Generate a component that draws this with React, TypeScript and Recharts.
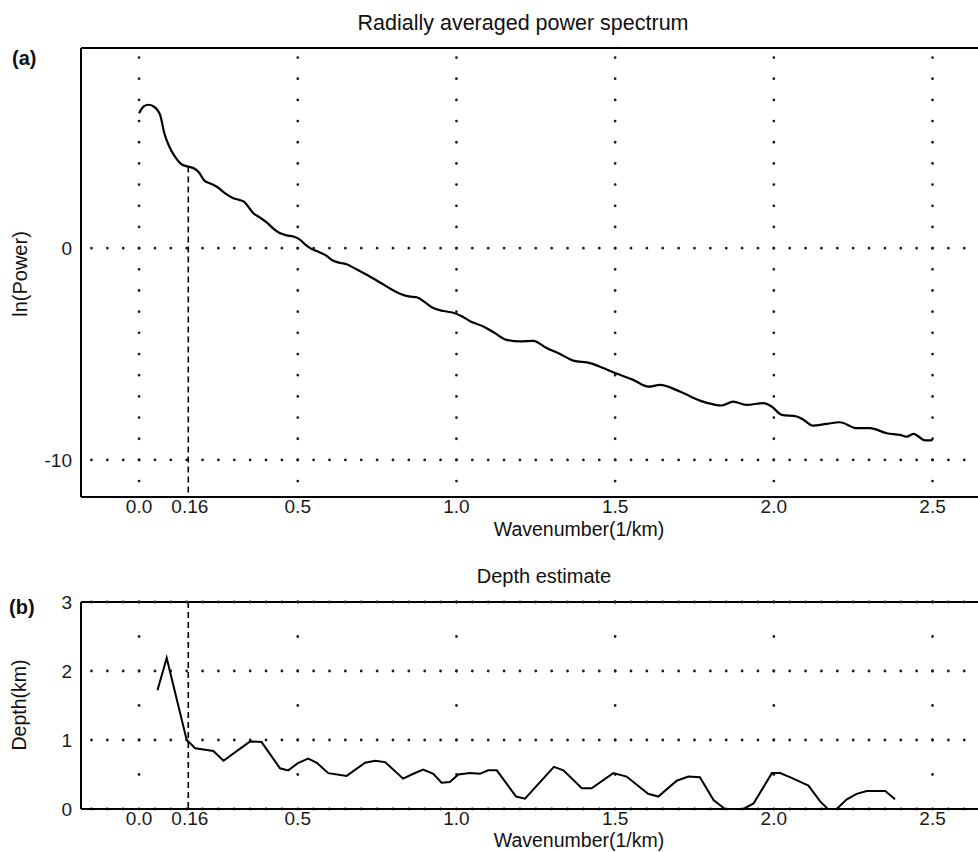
import React from 'react'
import { LineChart, Line, XAxis, YAxis, ReferenceLine } from 'recharts'

// (a) radially averaged power spectrum
const wavenumberA = [
  0.0, 0.015, 0.03, 0.045, 0.066, 0.08, 0.095, 0.114, 0.135, 0.155, 0.175, 0.19, 0.205, 0.225, 0.245,
  0.27, 0.297, 0.315, 0.33, 0.36, 0.38, 0.402, 0.425, 0.445, 0.465, 0.486, 0.507, 0.525, 0.539, 0.56,
  0.586, 0.612, 0.635, 0.654, 0.685, 0.717, 0.759, 0.79, 0.822, 0.85, 0.875, 0.9, 0.927, 0.959, 0.99,
  1.015, 1.043, 1.085, 1.12, 1.158, 1.2, 1.242, 1.284, 1.32, 1.368, 1.421, 1.46, 1.5, 1.557, 1.605,
  1.641, 1.704, 1.767, 1.81, 1.836, 1.872, 1.914, 1.967, 1.993, 2.025, 2.072, 2.093, 2.124, 2.165, 2.208,
  2.261, 2.303, 2.356, 2.398, 2.419, 2.44, 2.477, 2.5,
]
const lnPowerA = [
  6.37, 6.7, 6.77, 6.7, 6.3, 5.4, 4.8, 4.3, 3.95, 3.85, 3.75, 3.55, 3.2, 3.05, 2.9,
  2.6, 2.36, 2.28, 2.2, 1.65, 1.45, 1.22, 0.9, 0.7, 0.6, 0.55, 0.4, 0.15, 0.0, -0.14,
  -0.32, -0.6, -0.7, -0.76, -1.0, -1.26, -1.62, -1.9, -2.15, -2.28, -2.32, -2.55, -2.83, -2.97, -3.05,
  -3.2, -3.45, -3.7, -4.0, -4.33, -4.4, -4.38, -4.72, -4.95, -5.31, -5.43, -5.65, -5.9, -6.22, -6.54,
  -6.46, -6.77, -7.2, -7.38, -7.43, -7.25, -7.4, -7.32, -7.48, -7.87, -7.95, -8.1, -8.38, -8.3, -8.22,
  -8.5, -8.5, -8.74, -8.82, -8.9, -8.77, -9.08, -9.07,
]

// (b) depth estimate
const wavenumberB = [
  0.058, 0.087, 0.15, 0.177, 0.234, 0.266, 0.35, 0.386, 0.444, 0.47, 0.502, 0.533, 0.56, 0.596, 0.654,
  0.712, 0.744, 0.775, 0.832, 0.859, 0.895, 0.927, 0.953, 0.979, 1.006, 1.043, 1.074, 1.1, 1.127, 1.188,
  1.216, 1.307, 1.337, 1.395, 1.426, 1.494, 1.536, 1.604, 1.636, 1.694, 1.731, 1.767, 1.81, 1.846, 1.904,
  1.936, 1.994, 2.02, 2.056, 2.109, 2.146, 2.17, 2.198, 2.23, 2.261, 2.293, 2.351, 2.382,
]
const depthB = [
  1.72, 2.19, 1.0, 0.88, 0.84, 0.7, 0.98, 0.97, 0.59, 0.56, 0.67, 0.73, 0.67, 0.52, 0.48,
  0.67, 0.7, 0.68, 0.44, 0.5, 0.57, 0.51, 0.38, 0.39, 0.5, 0.52, 0.51, 0.56, 0.56, 0.18,
  0.15, 0.61, 0.56, 0.3, 0.3, 0.52, 0.47, 0.22, 0.18, 0.41, 0.47, 0.46, 0.13, 0.0, 0.0,
  0.08, 0.52, 0.52, 0.45, 0.34, 0.11, 0.0, 0.0, 0.14, 0.22, 0.26, 0.26, 0.14,
]

const xTicks = [0, 0.16, 0.5, 1.0, 1.5, 2.0, 2.5]
const gridX = [0, 0.5, 1.0, 1.5, 2.0, 2.5]
const powerTicks = [0, -10]
const depthTicks = [0, 1, 2, 3]
const cutoffK = 0.155
const cutoffPower = 3.85

const dataA = wavenumberA.map((k, i) => ({ k, v: lnPowerA[i] }))
const dataB = wavenumberB.map((k, i) => ({ k, v: depthB[i] }))

const FONT = '"Liberation Sans", Arial, Helvetica, sans-serif'
const XMIN = -0.183
const XMAX = 2.7
const PLOT_LEFT = 81
const PLOT_W = 915
const Y_AXIS_W = 40
const X_AXIS_H = 30
const PX_X = PLOT_W / (XMAX - XMIN)

const A_TOP = 48
const A_BOTTOM = 497
const A_YMIN = -11.75
const A_YMAX = 9.45
const PX_YA = (A_BOTTOM - A_TOP) / (A_YMAX - A_YMIN)

const B_OFFSET = 560
const B_TOP = 602
const B_BOTTOM = 809
const B_YMIN = 0
const B_YMAX = 3
const PX_YB = (B_BOTTOM - B_TOP) / (B_YMAX - B_YMIN)

const fmtK = (v: number) => (v === 0.16 ? '0.16' : v.toFixed(1))

// grid lines drawn as rows of round dots
const dots = (gap: number) => ({
  stroke: '#1e1e1e',
  strokeWidth: 2.8,
  strokeLinecap: 'round' as const,
  strokeDasharray: `0 ${gap}`,
})

const tickStyle = { fill: '#1a1a1a', fontSize: 19, fontFamily: FONT }

const App = () => {
  const widthChart = PLOT_LEFT + PLOT_W
  return (
    <div style={{ position: 'fixed', left: 0, top: 0, width: 978, height: 852, overflow: 'hidden', background: '#fff' }}>
      <div style={{ position: 'absolute', left: 0, top: 0 }}>
        <LineChart
          width={widthChart}
          height={A_BOTTOM + X_AXIS_H}
          data={dataA}
          margin={{ top: A_TOP, right: 0, bottom: 0, left: PLOT_LEFT - Y_AXIS_W }}
        >
          <XAxis
            type="number"
            dataKey="k"
            domain={[XMIN, XMAX]}
            allowDataOverflow
            ticks={xTicks}
            interval={0}
            tickFormatter={fmtK}
            height={X_AXIS_H}
            tickLine={false}
            tickSize={0}
            tickMargin={3}
            axisLine={{ stroke: '#000', strokeWidth: 2 }}
            tick={tickStyle}
          />
          <YAxis
            type="number"
            domain={[A_YMIN, A_YMAX]}
            allowDataOverflow
            ticks={powerTicks}
            interval={0}
            width={Y_AXIS_W}
            tickLine={false}
            tickSize={0}
            tickMargin={9}
            axisLine={{ stroke: '#000', strokeWidth: 2 }}
            tick={tickStyle}
          />
          <ReferenceLine y={A_YMAX} stroke="#000" strokeWidth={2} />
          {gridX.map(gx => (
            <ReferenceLine key={'va' + gx} segment={[{ x: gx, y: 9 }, { x: gx, y: -11.5 }]} {...dots(PX_YA)} />
          ))}
          {powerTicks.map(gy => (
            <ReferenceLine key={'ha' + gy} segment={[{ x: -0.15, y: gy }, { x: XMAX, y: gy }]} {...dots(0.05 * PX_X)} />
          ))}
          <ReferenceLine
            segment={[{ x: cutoffK, y: cutoffPower }, { x: cutoffK, y: A_YMIN }]}
            stroke="#000"
            strokeWidth={1.6}
            strokeDasharray="6 4"
          />
          <Line
            type="monotone"
            dataKey="v"
            stroke="#000"
            strokeWidth={2.2}
            dot={false}
            isAnimationActive={false}
          />
        </LineChart>
      </div>

      <div style={{ position: 'absolute', left: 0, top: B_OFFSET }}>
        <LineChart
          width={widthChart}
          height={B_BOTTOM - B_OFFSET + X_AXIS_H}
          data={dataB}
          margin={{ top: B_TOP - B_OFFSET, right: 0, bottom: 0, left: PLOT_LEFT - Y_AXIS_W }}
        >
          <XAxis
            type="number"
            dataKey="k"
            domain={[XMIN, XMAX]}
            allowDataOverflow
            ticks={xTicks}
            interval={0}
            tickFormatter={fmtK}
            height={X_AXIS_H}
            tickLine={false}
            tickSize={0}
            tickMargin={3}
            axisLine={{ stroke: '#000', strokeWidth: 2 }}
            tick={tickStyle}
          />
          <YAxis
            type="number"
            domain={[B_YMIN, B_YMAX]}
            allowDataOverflow
            ticks={depthTicks}
            interval={0}
            width={Y_AXIS_W}
            tickLine={false}
            tickSize={0}
            tickMargin={9}
            axisLine={{ stroke: '#000', strokeWidth: 2 }}
            tick={tickStyle}
          />
          <ReferenceLine y={B_YMAX} stroke="#000" strokeWidth={2} />
          {gridX.map(gx => (
            <ReferenceLine key={'vb' + gx} segment={[{ x: gx, y: B_YMAX }, { x: gx, y: B_YMIN }]} {...dots(0.5 * PX_YB)} />
          ))}
          {depthTicks.map(gy => (
            <ReferenceLine key={'hb' + gy} segment={[{ x: -0.15, y: gy }, { x: XMAX, y: gy }]} {...dots(0.05 * PX_X)} />
          ))}
          <ReferenceLine
            segment={[{ x: cutoffK, y: B_YMAX }, { x: cutoffK, y: B_YMIN }]}
            stroke="#000"
            strokeWidth={1.6}
            strokeDasharray="6 4"
          />
          <Line
            type="linear"
            dataKey="v"
            stroke="#000"
            strokeWidth={2}
            dot={false}
            isAnimationActive={false}
          />
        </LineChart>
      </div>

      <svg
        width={978}
        height={852}
        style={{ position: 'absolute', left: 0, top: 0, pointerEvents: 'none', fontFamily: FONT }}
      >
        <text x={523} y={30} textAnchor="middle" fontSize={21.5} fill="#111">Radially averaged power spectrum</text>
        <text x={12} y={65} fontSize={20} fontWeight="bold" fill="#111">(a)</text>
        <text x={27} y={274} textAnchor="middle" fontSize={20} fill="#111" transform="rotate(-90 27 274)">ln(Power)</text>
        <text x={579} y={536} textAnchor="middle" fontSize={19.5} fill="#111">Wavenumber(1/km)</text>

        <text x={544} y={583} textAnchor="middle" fontSize={20} fill="#111">Depth estimate</text>
        <text x={9} y={614} fontSize={20} fontWeight="bold" fill="#111">(b)</text>
        <text x={26} y={705} textAnchor="middle" fontSize={19.5} fill="#111" transform="rotate(-90 26 705)">Depth(km)</text>
        <text x={579} y={847} textAnchor="middle" fontSize={19.5} fill="#111">Wavenumber(1/km)</text>
      </svg>
    </div>
  )
}

export default App
